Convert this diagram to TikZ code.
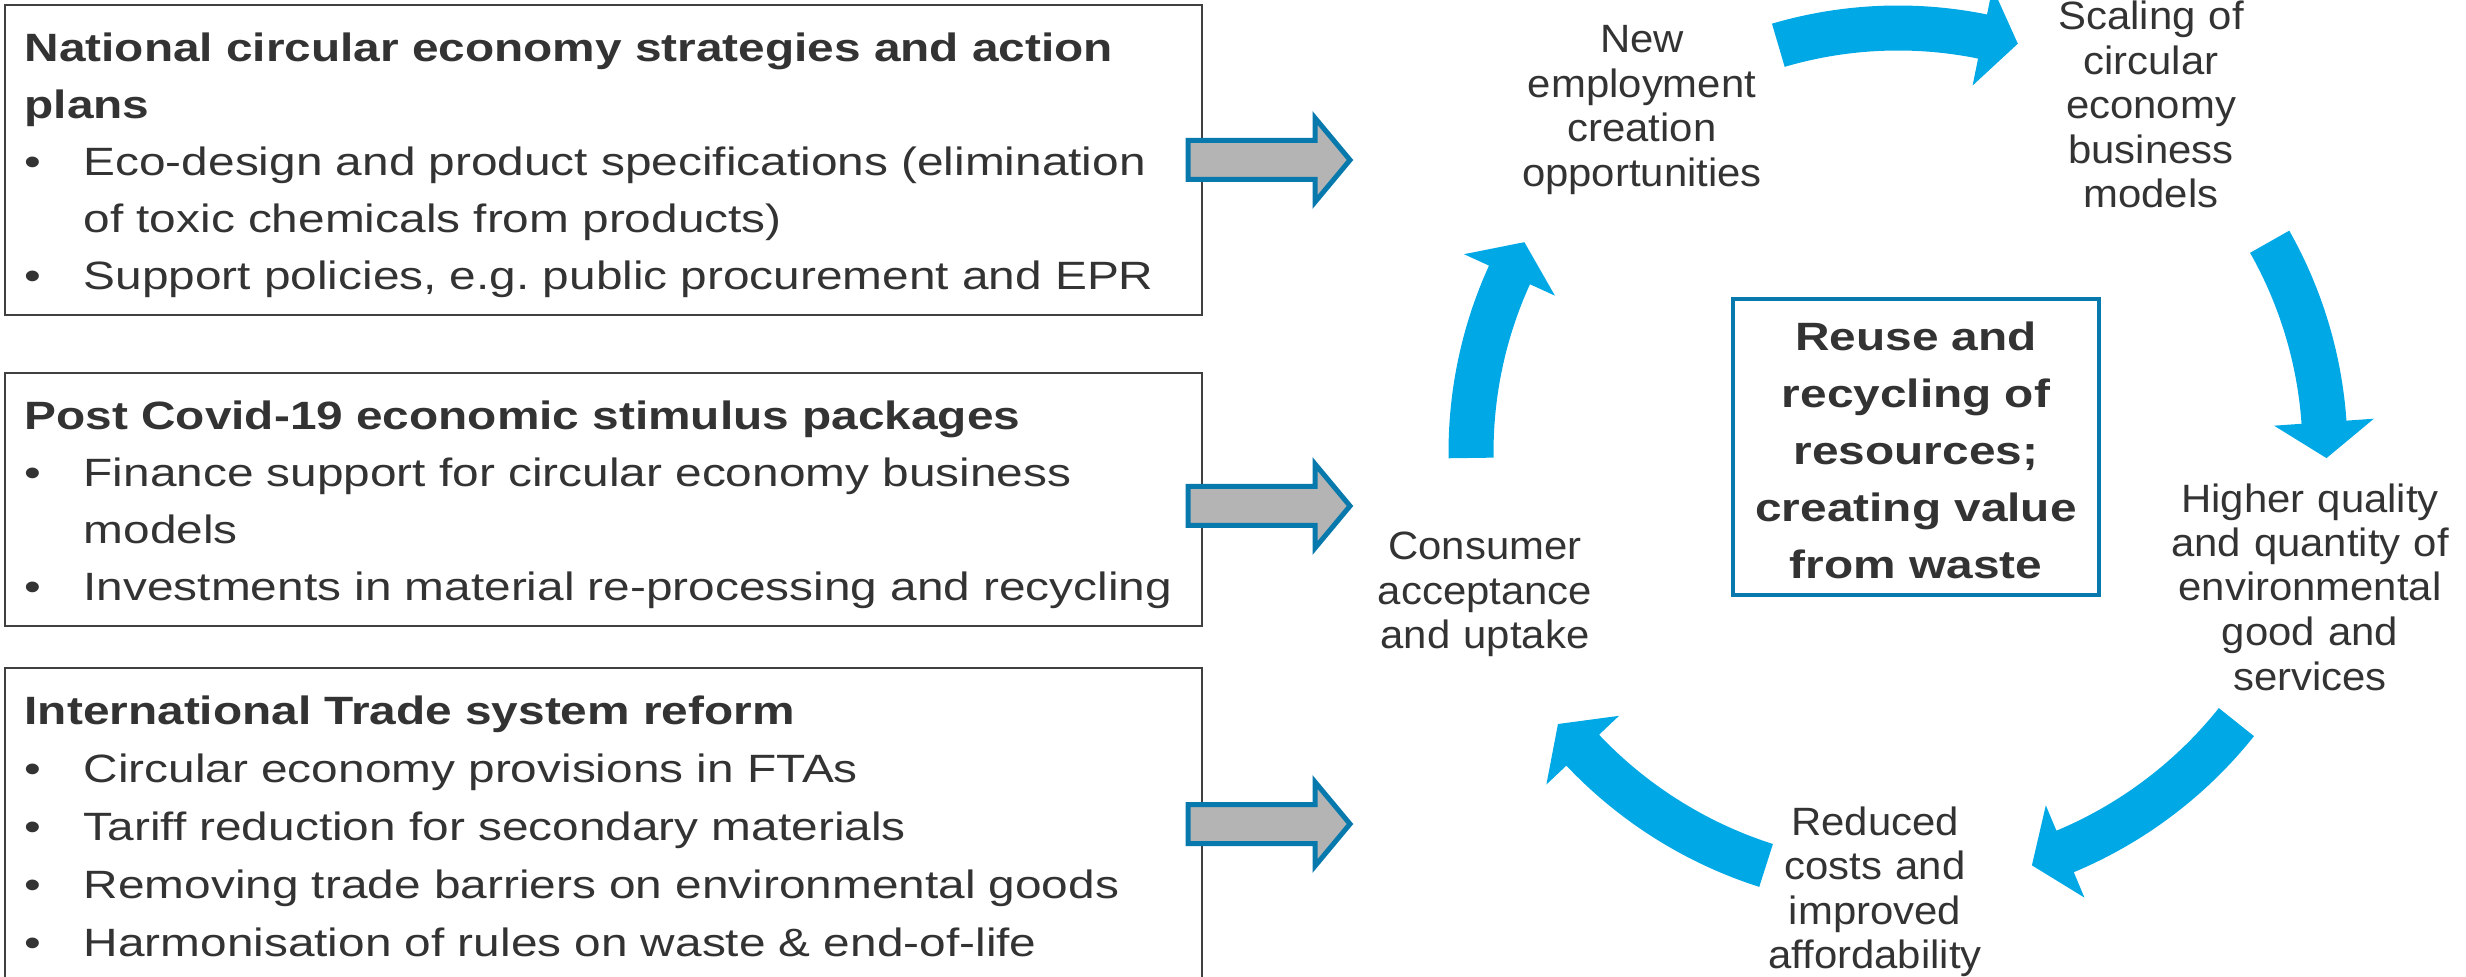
\documentclass[tikz,border=0pt]{standalone}
\usepackage{fontspec}
\setmainfont[FakeStretch=1.21]{Liberation Sans}
\newfontfamily\lblfont[FakeStretch=1.06]{Liberation Sans}
\usetikzlibrary{calc}
\frenchspacing
\definecolor{cycblue}{RGB}{0,169,230}
\definecolor{outblue}{RGB}{8,121,172}
\definecolor{greyfill}{RGB}{180,180,180}
\definecolor{txtgrey}{RGB}{51,51,51}
\definecolor{boxline}{RGB}{64,64,64}
\newcommand\bitem{\makebox[17.7pt][l]{•}}
\newcommand\bcont{\hspace*{17.7pt}}
% curved cycle arrow: #1 radius, #2 start angle, #3 end angle (clockwise)
\newcommand\cycarrow[3]{%
  \pgfmathsetmacro\cycRi{#1-22.5}%
  \pgfmathsetmacro\cycRo{#1+22.5}%
  \pgfmathsetmacro\cycHi{#1-50}%
  \pgfmathsetmacro\cycHo{#1+50}%
  \pgfmathsetmacro\cycTa{#3-90}%
  \fill[cyc] ($(C)+(#2:\cycRi)$) arc[start angle=#2,end angle=#3,radius=\cycRi]
    -- ($(C)+(#3:\cycHi)$) -- ($(C)+(#3:#1)+(\cycTa:36)$) -- ($(C)+(#3:\cycHo)$)
    -- ($(C)+(#3:\cycRo)$) arc[start angle=#3,end angle=#2,radius=\cycRo] -- cycle;}
% grey block arrow centred at height #1
\newcommand\greyarrow[1]{%
  \draw[garrow] (1188,#1+19.5) -- (1315,#1+19.5) -- (1315,#1+42) -- (1350,#1)
    -- (1315,#1-42) -- (1315,#1-19.5) -- (1188,#1-19.5) -- cycle;}
\begin{document}
\begin{tikzpicture}[x=0.3pt,y=0.3pt,
  boxst/.style={draw=boxline, line width=0.6pt, minimum width=359.1pt, inner sep=0pt, outer sep=0pt},
  hubst/.style={draw=outblue, line width=1.2pt, minimum width=109.8pt, minimum height=88.8pt, inner sep=0pt},
  garrow/.style={draw=outblue, fill=greyfill, line width=1.5pt, line join=miter},
  cyc/.style={fill=cycblue},
  boxtxt/.style={anchor=base west, text width=400pt, align=left, inner sep=0pt, text=txtgrey,
    font=\fontsize{11.85}{17.1}\selectfont},
  hubtxt/.style={anchor=base, text width=130pt, align=center, inner sep=0pt, text=txtgrey,
    font=\bfseries\fontsize{11.85}{17.1}\selectfont},
  lbl/.style={anchor=base, text width=130pt, align=center, inner sep=0pt, text=txtgrey,
    font=\lblfont\fontsize{11.85}{13.35}\selectfont}]
\useasboundingbox (0,0) rectangle (2466,976);
\clip (0,0) rectangle (2466,976);
\fill[white] (0,0) rectangle (2466,976);

% left boxes
\node[boxst, minimum height=93pt] (box1) at (603.5,816) {};
\node[boxst, minimum height=75.9pt] (box2) at (603.5,476.5) {};
\node[boxst, minimum height=95.4pt] (box3) at (603.5,149) {};

\node[boxtxt] (t1) at (24,914) {\textbf{National circular economy strategies and action}\\
  \textbf{plans}\\
  \bitem Eco-design and product specifications (elimination\\
  \bcont of toxic chemicals from products)\\
  \bitem Support policies, e.g. public procurement and EPR};

\node[boxtxt] (t2) at (24,546) {\textbf{Post Covid-19 economic stimulus packages}\\
  \bitem Finance support for circular economy business\\
  \bcont models\\
  \bitem Investments in material re-processing and recycling};

\node[boxtxt, font=\fontsize{11.85}{17.4}\selectfont] (t3) at (24,252) {\textbf{International Trade system reform}\\
  \bitem Circular economy provisions in FTAs\\
  \bitem Tariff reduction for secondary materials\\
  \bitem Removing trade barriers on environmental goods\\
  \bitem Harmonisation of rules on waste \& end-of-life};

% grey arrows
\greyarrow{816}
\greyarrow{470}
\greyarrow{152}

% centre
\coordinate (C) at (1898,524);
\node[hubst] (hub) at (1916,529) {};
\node[hubtxt] (hubt) at (1916,625) {Reuse and\\ recycling of\\ resources;\\ creating value\\ from waste};

% cycle arrows
\cycarrow{424}{106.4}{78.5}
\cycarrow{427}{29.5}{4}
\cycarrow{433}{-38.6}{-67.3}
\cycarrow{434}{-107.7}{-136.6}
\cycarrow{427}{180.8}{155.5}

% cycle labels
\node[lbl] (emp) at (1642,923) {New\\ employment\\ creation\\ opportunities};
\node[lbl] (scal) at (2151,946) {Scaling of\\ circular\\ economy\\ business\\ models};
\node[lbl] (qual) at (2310,464) {Higher quality\\ and quantity of\\ environmental\\ good and\\ services};
\node[lbl] (cost) at (1875,141) {Reduced\\ costs and\\ improved\\ affordability};
\node[lbl] (cons) at (1485,416) {Consumer\\ acceptance\\ and uptake};
\end{tikzpicture}
\end{document}
